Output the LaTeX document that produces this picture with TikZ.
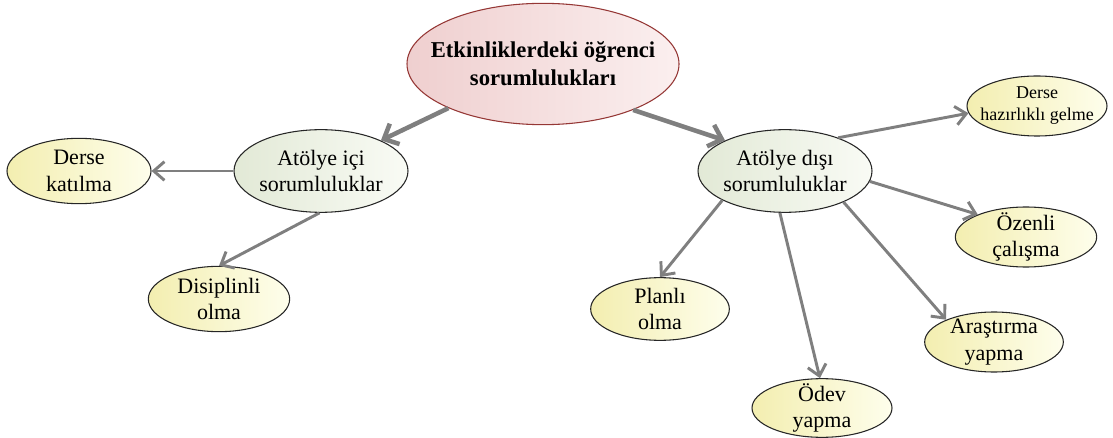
\documentclass[tikz,border=0pt]{standalone}
\usepackage{fontspec}
\setmainfont{Liberation Serif}
\usetikzlibrary{shapes.geometric,arrows.meta}

\definecolor{linkgray}{HTML}{7F7F7F}
\definecolor{rootline}{HTML}{953735}
\definecolor{rootdark}{HTML}{EFCFCF}
\definecolor{rootlight}{HTML}{FBEFEF}
\definecolor{middark}{HTML}{E2E9D6}
\definecolor{midlight}{HTML}{F9FBF5}
\definecolor{leafdark}{HTML}{F3EEB0}
\definecolor{leaflight}{HTML}{FEFEEC}

\tikzset{
  bubble/.style={ellipse, draw=black!85, line width=0.8pt, inner xsep=-10pt, inner ysep=-5pt,
    align=center, font=\fontsize{16.5}{20}\selectfont},
  rootbubble/.style={bubble, draw=rootline, left color=rootdark, right color=rootlight,
    inner xsep=-28pt, font=\fontsize{17}{21}\selectfont\bfseries},
  midbubble/.style={bubble, left color=middark, right color=midlight,
    minimum width=130.5pt, minimum height=62pt},
  leafbubble/.style={bubble, left color=leafdark, right color=leaflight,
    minimum width=105pt, minimum height=46pt},
  link/.style={draw=linkgray, line width=2.2pt,
    -{Straight Barb[length=8pt,width=14pt]}},
  mainlink/.style={draw=linkgray, line width=3.4pt,
    -{Straight Barb[length=9pt,width=17pt]}}
}

\begin{document}
\begin{tikzpicture}[x=0.75pt,y=-0.75pt]
\useasboundingbox (0,0) rectangle (1113,438);

% central topic
\node[rootbubble, minimum width=204pt, minimum height=91pt] (root) at (543,64)
  {Etkinliklerdeki öğrenci\\sorumlulukları};

% the two groups
\node[midbubble] (ici) at (321,171) {Atölye içi\\sorumluluklar};
\node[midbubble] (disi) at (785,171) {Atölye dışı\\sorumluluklar};

% inside the workshop
\node[leafbubble, minimum width=108pt, minimum height=49pt] (katilma) at (79,171) {Derse\\katılma};
\node[leafbubble, minimum width=106pt, minimum height=49pt] (disiplin) at (219,299) {Disiplinli\\olma};

% outside the workshop
\node[leafbubble, inner xsep=-14pt, minimum width=105pt, minimum height=45pt,
  font=\fontsize{13.5}{16.5}\selectfont] (hazir) at (1037,106) {Derse\\hazırlıklı gelme};
\node[leafbubble, minimum width=106pt, minimum height=45pt] (ozenli) at (1026,237) {Özenli\\çalışma};
\node[leafbubble, minimum width=104pt, minimum height=47pt] (planli) at (660,309) {Planlı\\olma};
\node[leafbubble, minimum width=105pt, minimum height=44pt] (odev) at (822,408) {Ödev\\yapma};
\node[leafbubble, minimum width=104pt, minimum height=45pt] (arastirma) at (994,342) {Araştırma\\yapma};

% connectors
\draw[mainlink] (root.205) -- (ici.27);
\draw[mainlink] (root.-27) -- (disi.153);

\draw[link] (ici.180) -- (katilma.0);
\draw[link] (ici.268) -- (disiplin.90);

\draw[link] (disi.32) -- (hazir.186);
\draw[link] (disi.-7) -- (ozenli.155);
\draw[link] (disi.-28) -- (arastirma.155);
\draw[link] (disi.263) -- (odev.94);
\draw[link] (disi.205) -- (planli.90);
\end{tikzpicture}
\end{document}
